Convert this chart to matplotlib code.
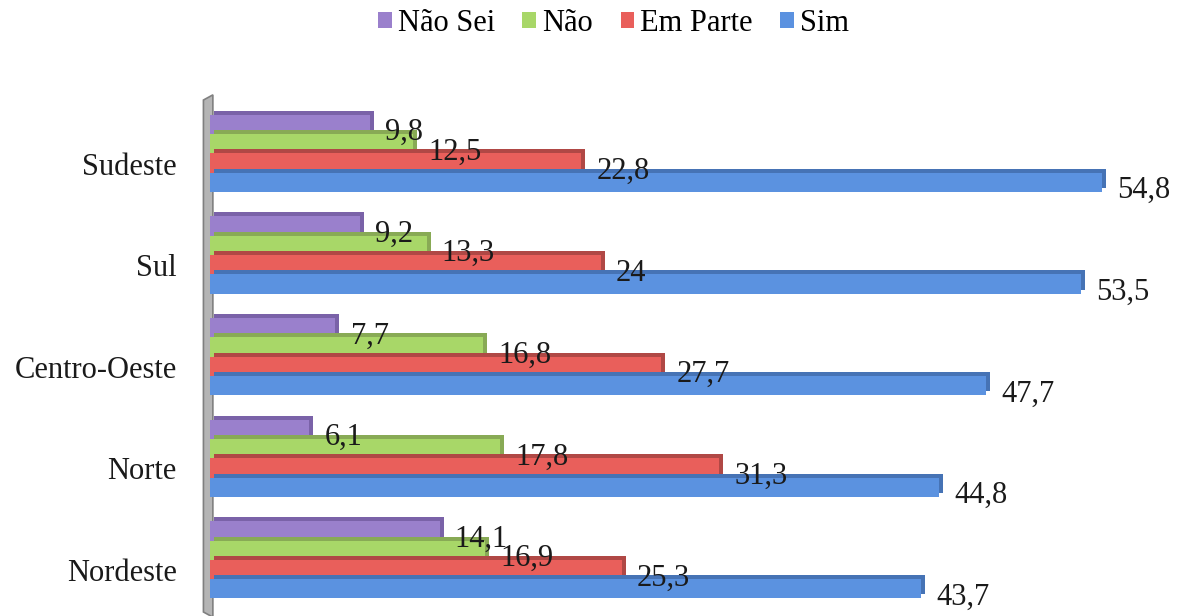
import numpy as np
import matplotlib
matplotlib.use('Agg')
import matplotlib.pyplot as plt
import matplotlib.transforms as mtransforms
from matplotlib.patches import Polygon, Patch

# Dados
regioes = ['Sudeste', 'Sul', 'Centro-Oeste', 'Norte', 'Nordeste']
series = ['Não Sei', 'Não', 'Em Parte', 'Sim']
nao_sei = [9.8, 9.2, 7.7, 6.1, 14.1]
nao = [12.5, 13.3, 16.8, 17.8, 16.9]
em_parte = [22.8, 24, 27.7, 31.3, 25.3]
sim = [54.8, 53.5, 47.7, 44.8, 43.7]
rotulos = [['9,8', '9,2', '7,7', '6,1', '14,1'],
           ['12,5', '13,3', '16,8', '17,8', '16,9'],
           ['22,8', '24', '27,7', '31,3', '25,3'],
           ['54,8', '53,5', '47,7', '44,8', '43,7']]

cores = ['#9a80cc', '#a8d768', '#e95f5b', '#5b92e0']
cores_topo = ['#7a62a8', '#88aa55', '#b04845', '#4673b5']

plt.rcParams['font.family'] = ['Liberation Serif', 'DejaVu Serif']

fig = plt.figure(figsize=(11.8, 6.16), dpi=100)
ax = fig.add_axes([0.178, 0.0065, 0.80, 0.8395])

y = np.arange(len(regioes))
h = 0.19
valores = [nao_sei, nao, em_parte, sim]

# deslocamento para o efeito 3D
prof = mtransforms.ScaledTranslation(4 / 100, 4 / 100, fig.dpi_scale_trans)
for k, vals in enumerate(valores):
    pos = y + (k - 1.5) * h
    ax.barh(pos, vals, height=h, color=cores_topo[k], edgecolor='none',
            transform=ax.transData + prof, zorder=2 + k * 0.1)
    ax.barh(pos, vals, height=h, color=cores[k], edgecolor='none',
            zorder=2.05 + k * 0.1)
    for yy, v, txt in zip(pos, vals, rotulos[k]):
        ax.annotate(txt, xy=(v, yy), xytext=(11, -6), textcoords='offset points',
                    ha='left', va='center', fontsize=22, color='#1a1a1a',
                    zorder=5)

ax.set_xlim(0, 58)
ax.set_ylim(4.513, -0.576)
ax.set_yticks(y + 0.1)
ax.set_yticklabels(regioes, fontsize=22, color='#1a1a1a')
ax.tick_params(axis='y', length=0, pad=24)
ax.set_xticks([])
for s in ax.spines.values():
    s.set_visible(False)

# parede lateral cinza
parede = Polygon([[-0.007, 0.0], [-0.007, 0.99], [0.003, 1.0], [0.003, -0.01]],
                 closed=True, transform=ax.transAxes, facecolor='#b5b5b5',
                 edgecolor='#808080', lw=1.2, clip_on=False, zorder=1)
ax.add_patch(parede)

handles = [Patch(facecolor=c, edgecolor='none') for c in cores]
fig.legend(handles, series, loc='center', bbox_to_anchor=(0.52, 0.962),
           ncol=4, frameon=False, fontsize=22, handlelength=0.45,
           handleheight=0.45, handletextpad=0.2, columnspacing=0.9)

fig.savefig('out.png', dpi=100)
